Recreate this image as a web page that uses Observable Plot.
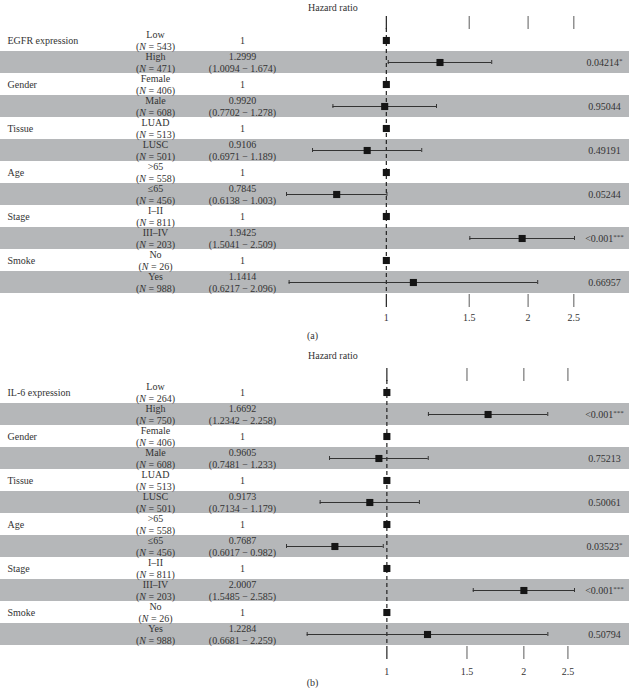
<!DOCTYPE html>
<html><head><meta charset="utf-8">
<script src="https://cdn.jsdelivr.net/npm/d3@7"></script>
<script src="https://cdn.jsdelivr.net/npm/@observablehq/plot@0.6"></script>
<style>
body{margin:0;background:#fff;font-family:"Liberation Serif",serif;color:#333;}
.title{font-size:10px;padding-left:308px;white-space:nowrap;}
.cap{text-align:center;font-size:10px;padding-right:4px;}
svg{display:block}
</style></head><body>
<div class="title" style="height:15px;line-height:15px">Hazard ratio</div>
<div id="pa"></div>
<div class="cap" style="height:22px;line-height:22px">(a)</div>
<div class="title" style="height:18px;line-height:18px">Hazard ratio</div>
<div id="pb"></div>
<div class="cap" style="height:10px;line-height:10px">(b)</div>
<script>
// ---- data ----
const groupsA = ["EGFR expression", "Gender", "Tissue", "Age", "Stage", "Smoke"];
const groupsB = ["IL-6 expression", "Gender", "Tissue", "Age", "Stage", "Smoke"];
const categoriesA = ["Low", "High", "Female", "Male", "LUAD", "LUSC", ">65", "≤65", "I–II", "III–IV", "No", "Yes"];
const categoriesB = ["Low", "High", "Female", "Male", "LUAD", "LUSC", ">65", "≤65", "I–II", "III–IV", "No", "Yes"];
const nA = [543, 471, 406, 608, 513, 501, 558, 456, 811, 203, 26, 988];
const nB = [264, 750, 406, 608, 513, 501, 558, 456, 811, 203, 26, 988];
const hrA = [1, 1.2999, 1, 0.9920, 1, 0.9106, 1, 0.7845, 1, 1.9425, 1, 1.1414];
const lowA = [null, 1.0094, null, 0.7702, null, 0.6971, null, 0.6138, null, 1.5041, null, 0.6217];
const highA = [null, 1.674, null, 1.278, null, 1.189, null, 1.003, null, 2.509, null, 2.096];
const pA = ["0.04214*", "0.95044", "0.49191", "0.05244", "<0.001***", "0.66957"];
const hrB = [1, 1.6692, 1, 0.9605, 1, 0.9173, 1, 0.7687, 1, 2.0007, 1, 1.2284];
const lowB = [null, 1.2342, null, 0.7481, null, 0.7134, null, 0.6017, null, 1.5485, null, 0.6681];
const highB = [null, 2.258, null, 1.233, null, 1.179, null, 0.982, null, 2.585, null, 2.259];
const pB = ["<0.001***", "0.75213", "0.50061", "0.03523*", "<0.001***", "0.50794"];
const xTicks = [1, 1.5, 2, 2.5];

function buildRows(groups, cats, n, hr, lo, hi, p) {
  return cats.map((c, i) => ({
    i,
    group: i % 2 === 0 ? groups[i / 2] : "",
    cat: c + "\n(N = " + n[i] + ")",
    hr: hr[i], lo: lo[i], hi: hi[i],
    hrText: lo[i] == null ? "1" : hr[i].toFixed(4) + "\n(" + lo[i].toFixed(4) + " − " + hi[i].toFixed(3) + ")",
    p: i % 2 === 1 ? p[(i - 1) / 2] : "",
    band: i % 2 === 1
  }));
}

function decorate(svg) {
  svg.querySelectorAll("text, tspan").forEach(el => {
    if (el.childNodes.length !== 1 || el.firstChild.nodeType !== 3) return;
    const s = el.textContent;
    const ns = "http://www.w3.org/2000/svg";
    let m = s.match(/^\(N = (.*)$/);
    if (m) {
      el.textContent = "";
      el.appendChild(document.createTextNode("("));
      const t = document.createElementNS(ns, "tspan");
      t.setAttribute("font-style", "italic");
      t.textContent = "N";
      el.appendChild(t);
      el.appendChild(document.createTextNode(" = " + m[1]));
      return;
    }
    m = s.match(/^(.*?)(\*+)$/);
    if (m) {
      el.textContent = "";
      el.appendChild(document.createTextNode(m[1]));
      const t = document.createElementNS(ns, "tspan");
      t.setAttribute("font-size", "7px");
      t.setAttribute("dy", "-3");
      t.textContent = m[2];
      el.appendChild(t);
    }
  });
}

function panel(rows, height, mTop, mBottom, labelPad) {
  const ci = rows.filter(r => r.lo != null);
  const dom = [d3.min(ci, r => r.lo), d3.max(ci, r => r.hi)];
  const svg = Plot.plot({
    width: 629, height,
    marginLeft: 0, marginRight: 0, marginTop: mTop, marginBottom: mBottom,
    style: {fontFamily: "'Liberation Serif', serif", fontSize: "10px", color: "#333", background: "#fff"},
    x: {type: "log", domain: dom, range: [286, 574]},
    y: {type: "band", domain: rows.map(r => r.i), padding: 0, axis: null},
    marks: [
      Plot.cell(rows.filter(r => r.band), {y: "i", fill: "#b5b7b9", inset: 0}),
      Plot.ruleX([1], {stroke: "#222", strokeWidth: 1.2, strokeDasharray: "4,3"}),
      Plot.ruleY(ci, {y: "i", x1: "lo", x2: "hi", stroke: "#333", strokeWidth: 1}),
      Plot.tickX(ci, {x: "lo", y: "i", stroke: "#333", insetTop: 9, insetBottom: 9}),
      Plot.tickX(ci, {x: "hi", y: "i", stroke: "#333", insetTop: 9, insetBottom: 9}),
      Plot.dot(rows, {x: "hr", y: "i", symbol: "square", r: 4, fill: "#151515", stroke: null}),
      Plot.axisX([1], {anchor: "top", tickSize: 13, tickFormat: () => "", label: null, stroke: "#222", strokeWidth: 1.2}),
      Plot.axisX(xTicks.slice(1), {anchor: "top", tickSize: 13, tickFormat: () => "", label: null, stroke: "#8a8a8a", strokeWidth: 1.4}),
      Plot.axisX([1], {anchor: "bottom", tickSize: 13, tickFormat: () => "", label: null, stroke: "#222", strokeWidth: 1.2}),
      Plot.axisX(xTicks.slice(1), {anchor: "bottom", tickSize: 13, tickFormat: () => "", label: null, stroke: "#8a8a8a", strokeWidth: 1.4}),
      Plot.axisX(xTicks, {anchor: "bottom", tickSize: 0, tickPadding: labelPad, tickFormat: d => String(d), label: null, fill: "#333"}),
      Plot.text(rows, {y: "i", text: "group", frameAnchor: "left", dx: 7, textAnchor: "start", fill: "#333"}),
      Plot.text(rows, {y: "i", text: "cat", frameAnchor: "left", dx: 155, textAnchor: "middle", lineHeight: 1.2, fill: "#333"}),
      Plot.text(rows, {y: "i", text: "hrText", frameAnchor: "left", dx: 242, textAnchor: "middle", lineHeight: 1.2, fill: "#333"}),
      Plot.text(rows, {y: "i", text: "p", frameAnchor: "right", dx: -25, textAnchor: "middle", fill: "#333"})
    ]
  });
  decorate(svg);
  return svg;
}

const rowsA = buildRows(groupsA, categoriesA, nA, hrA, lowA, highA, pA);
const rowsB = buildRows(groupsB, categoriesB, nB, hrB, lowB, highB, pB);
document.getElementById("pa").appendChild(panel(rowsA, 310, 13, 31, 19));
document.getElementById("pb").appendChild(panel(rowsB, 313, 15, 32, 21));
</script>
</body></html>
